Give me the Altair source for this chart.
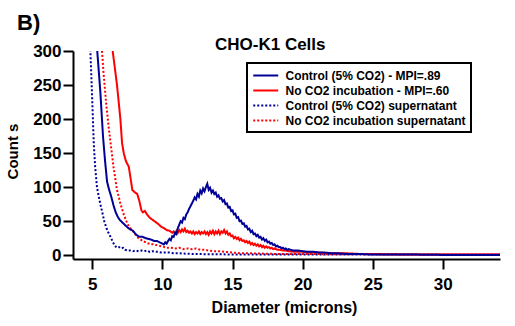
import altair as alt
import pandas as pd

# ---------------- data ----------------
series_names = [
    "Control (5% CO2) - MPI=.89",
    "No CO2 incubation - MPI=.60",
    "Control (5% CO2) supernatant",
    "No CO2 incubation supernatant",
]
series_colors = ["#000096", "#FF0000", "#000096", "#FF0000"]
series_dash = [[1, 0], [1, 0], [2, 2], [2, 2]]

ctrl_x = [4.9, 5.35, 5.57, 5.76, 5.9, 6.05, 6.2, 6.35, 6.5, 6.65, 6.8, 6.95, 7.1, 7.3, 7.5, 7.7, 7.9,
          8.05, 8.2, 8.4, 8.6, 8.8, 9.0, 9.2, 9.4, 9.6, 9.8, 10.0, 10.1, 10.2, 10.3, 10.4,
          10.5, 10.6, 10.7, 10.8, 10.9, 11.0, 11.1, 11.2, 11.3, 11.4, 11.5, 11.6, 11.7, 11.8, 11.9,
          12.0, 12.1, 12.2, 12.3, 12.4, 12.5, 12.6, 12.7, 12.8, 12.9, 13.0, 13.1, 13.2, 13.3, 13.4,
          13.5, 13.6, 13.7, 13.8, 13.9, 14.0, 14.1, 14.2, 14.3, 14.4, 14.5, 14.6, 14.7, 14.8, 14.9,
          15.0, 15.1, 15.2, 15.3, 15.4, 15.5, 15.6, 15.7, 15.8, 15.9, 16.0, 16.1, 16.2, 16.3, 16.4,
          16.5, 16.6, 16.7, 16.8, 16.9, 17.0, 17.1, 17.2, 17.3, 17.4, 17.5, 17.6, 17.7, 17.8, 17.9,
          18.0, 18.1, 18.2, 18.3, 18.4, 18.5, 18.6, 18.7, 18.8, 18.9, 19.0,
          19.3, 19.6, 20.0, 20.4, 20.8, 21.2, 21.6, 22.0, 22.5, 23.0, 24.0, 25.0, 26.0, 28.0, 30.0,
          32.0, 34.2]
ctrl_y = [440, 300, 240, 175, 140, 108, 96, 86, 74, 64, 57, 52, 49, 45, 41, 38, 36,
          32, 29, 27, 27, 25, 24, 23, 21, 21, 19, 17, 16, 19, 17, 21,
          24, 22, 28, 27, 33, 31, 40, 45, 50, 48, 55, 53, 60, 63, 68,
          72, 76, 80, 85, 82, 90, 86, 95, 91, 98, 94, 100, 105, 96, 99,
          92, 95, 90, 92, 86, 88, 83, 84, 79, 81, 75, 76, 70, 71, 65,
          66, 60, 61, 55, 56, 50, 51, 46, 47, 42, 43, 38, 39, 34, 36,
          31, 32, 28, 30, 26, 27, 23, 25, 21, 23, 19, 20, 17, 18, 15,
          16, 13, 14, 12, 12, 10, 11, 9, 10, 8, 9,
          7, 7, 6, 5, 5, 4, 4, 3, 3, 2, 2, 1, 1, 1, 0.5,
          0.5, 0.5]

noco2_x = [6.2, 6.45, 6.76, 7.0, 7.12, 7.24, 7.4, 7.6, 7.75, 7.85, 8.0, 8.2, 8.35, 8.5, 8.6, 8.75,
           8.9, 9.1, 9.3, 9.5, 9.7, 9.9, 10.1, 10.3, 10.5, 10.7,
           10.8, 10.9, 11.0, 11.1, 11.2, 11.3, 11.4, 11.5, 11.6, 11.7, 11.8, 11.9,
           12.0, 12.1, 12.2, 12.3, 12.4, 12.5, 12.6, 12.7, 12.8, 12.9, 13.0, 13.1, 13.2, 13.3, 13.4,
           13.5, 13.6, 13.7, 13.8, 13.9, 14.0, 14.1, 14.2, 14.3, 14.4, 14.5, 14.6, 14.7, 14.8, 14.9,
           15.0, 15.1, 15.2, 15.3, 15.4, 15.5, 15.6, 15.7, 15.8, 15.9, 16.0, 16.1, 16.2, 16.3, 16.4,
           16.5, 16.6, 16.7, 16.8, 16.9, 17.0, 17.1, 17.2, 17.3, 17.4, 17.5, 17.6, 17.7, 17.8, 17.9,
           18.0, 18.2, 18.4, 18.6, 18.8, 19.0,
           19.5, 20.0, 20.5, 21.0, 22.0, 23.0, 24.0, 25.0, 26.0, 28.0, 30.0, 32.0, 34.2]
noco2_y = [400, 300, 250, 200, 165, 150, 138, 130, 110, 96, 93, 90, 80, 66, 63, 65,
           60, 55, 52, 49, 46, 42, 40, 37, 36, 33,
           35, 32, 36, 33, 37, 34, 38, 35, 39, 34, 36, 33,
           35, 32, 35, 31, 34, 32, 35, 31, 34, 32, 35, 31, 34, 30, 35,
           32, 36, 31, 35, 32, 36, 31, 35, 33, 37, 32, 35, 30, 32, 28,
           29, 25, 27, 24, 26, 22, 24, 21, 22, 19, 21, 18, 20, 16, 18,
           15, 17, 14, 16, 13, 15, 12, 14, 11, 13, 11, 12, 10, 11, 9,
           10, 8, 8, 7, 7, 6,
           5, 5, 4, 4, 3, 3, 2, 2, 1.5, 1, 1, 1, 1]

ctrl_sup_x = [4.7, 4.86, 4.98, 5.1, 5.2, 5.33, 5.45, 5.57, 5.7, 5.85, 6.0, 6.15, 6.3, 6.45, 6.6,
              6.76, 6.9, 7.05, 7.2, 7.35, 7.5, 7.7, 7.9, 8.1, 8.3, 8.5, 8.7, 8.9, 9.1, 9.3, 9.5,
              9.7, 9.9, 10.2, 10.5, 10.8, 11.1, 11.5, 12.0, 12.5, 13.0, 14.0, 15.0, 16.0, 18.0,
              20.0, 22.0, 25.0, 28.0, 31.0, 34.2]
ctrl_sup_y = [420, 300, 235, 165, 130, 100, 87, 75, 64, 50, 40, 33, 27, 20, 14,
              11, 12, 10, 11, 8, 7, 7, 6, 7, 6, 7, 6, 7, 5, 6, 5,
              5, 4, 4, 4, 3, 3, 2.5, 2, 2, 1.5, 1.5, 1, 1, 1,
              1, 1, 1, 1, 1, 1]

noco2_sup_x = [5.5, 5.69, 5.8, 6.0, 6.16, 6.3, 6.52, 6.76, 7.0, 7.24, 7.5, 7.7, 7.95, 8.15, 8.3,
               8.6, 8.9, 9.2, 9.4, 9.7, 10.0, 10.3, 10.6, 10.9, 11.2, 11.5, 11.8, 12.1, 12.4,
               12.7, 13.0, 13.3, 13.6, 14.0, 14.5, 15.0, 15.5, 16.0, 17.0, 18.0, 20.0, 22.0,
               24.0, 27.0, 30.0, 34.2]
noco2_sup_y = [400, 300, 267, 220, 189, 165, 128, 96, 76, 60, 46, 40, 34, 28, 25,
               21, 18, 16, 16, 14, 13, 11, 11, 10, 11, 9, 10, 9, 10,
               8, 8, 7, 6, 6, 5, 4, 3, 3, 2.5, 2, 2, 1.5,
               1.5, 1, 1, 1]

x_ticks = [5, 10, 15, 20, 25, 30]
y_ticks = [0, 50, 100, 150, 200, 250, 300]

# ---------------- table ----------------
frames = []
for name, xs, ys in [
    (series_names[2], ctrl_sup_x, ctrl_sup_y),
    (series_names[3], noco2_sup_x, noco2_sup_y),
    (series_names[1], noco2_x, noco2_y),
    (series_names[0], ctrl_x, ctrl_y),
]:
    frames.append(pd.DataFrame({"diameter": xs, "counts": ys, "series": name}))
df = pd.concat(frames, ignore_index=True)

FONT = "Liberation Sans"

x_enc = alt.X("diameter:Q",
              scale=alt.Scale(domain=[3.62, 34.08], nice=False, zero=False),
              axis=alt.Axis(values=x_ticks, title="Diameter (microns)", format="d",
                            titleX=211, titleY=53, titleBaseline="alphabetic",
                            titleAlign="center", titleFontSize=16,
                            labelFontSize=17, labelPadding=7))
y_enc = alt.Y("counts:Q",
              scale=alt.Scale(domain=[-5.5, 300], nice=False, zero=False),
              axis=alt.Axis(values=y_ticks, title="Count s", format="d",
                            titleX=-61, titleY=100, titleAngle=270, titleFontSize=15,
                            titleBaseline="middle", titleAlign="center",
                            labelFontSize=17, labelPadding=2))

legend_kw = dict(title=None, orient="none", legendX=174, legendY=12,
                 symbolType="M-1,0H3", symbolSize=156, symbolStrokeWidth=2,
                 labelFont=FONT, labelFontSize=12, labelFontWeight="bold",
                 labelColor="black", labelOffset=18.5, strokeColor="black",
                 padding=5, rowPadding=1, labelLimit=400)

color_enc = alt.Color("series:N",
                      scale=alt.Scale(domain=series_names, range=series_colors),
                      sort=series_names, legend=alt.Legend(**legend_kw))
dash_enc = alt.StrokeDash("series:N",
                          scale=alt.Scale(domain=series_names, range=series_dash),
                          sort=series_names, legend=alt.Legend(**legend_kw))

layers = []
for name in [series_names[2], series_names[3], series_names[1], series_names[0]]:
    layers.append(
        alt.Chart(df).transform_filter(alt.datum.series == name)
        .mark_line(strokeWidth=2, clip=True, interpolate="linear")
        .encode(x=x_enc, y=y_enc, color=color_enc, strokeDash=dash_enc, order="diameter:Q")
    )

label_b = alt.Chart(pd.DataFrame({"t": ["B)"]})).mark_text(
    font=FONT, fontSize=22, fontWeight="bold", align="left", baseline="alphabetic", color="black"
).encode(x=alt.value(-56), y=alt.value(-21), text="t:N")

title_txt = alt.Chart(pd.DataFrame({"t": ["CHO-K1 Cells"]})).mark_text(
    font=FONT, fontSize=17, fontWeight="bold", align="left", baseline="alphabetic", color="black"
).encode(x=alt.value(142), y=alt.value(-1), text="t:N")

chart = alt.layer(*layers, label_b, title_txt).properties(
    width=427, height=208,
    autosize=alt.AutoSizeParams(type="none"),
    padding={"left": 73, "top": 51, "right": 15, "bottom": 67},
).configure_view(stroke=None).configure_axis(
    grid=False, domainColor="black", domainWidth=2, tickColor="black", tickWidth=2,
    tickSize=10, labelFont=FONT, labelFontWeight="bold", labelColor="black",
    titleFont=FONT, titleFontWeight="bold", titleColor="black",
).configure_legend(strokeWidth=2)

chart.save("out.html", embed_options={"renderer": "svg", "actions": False})
